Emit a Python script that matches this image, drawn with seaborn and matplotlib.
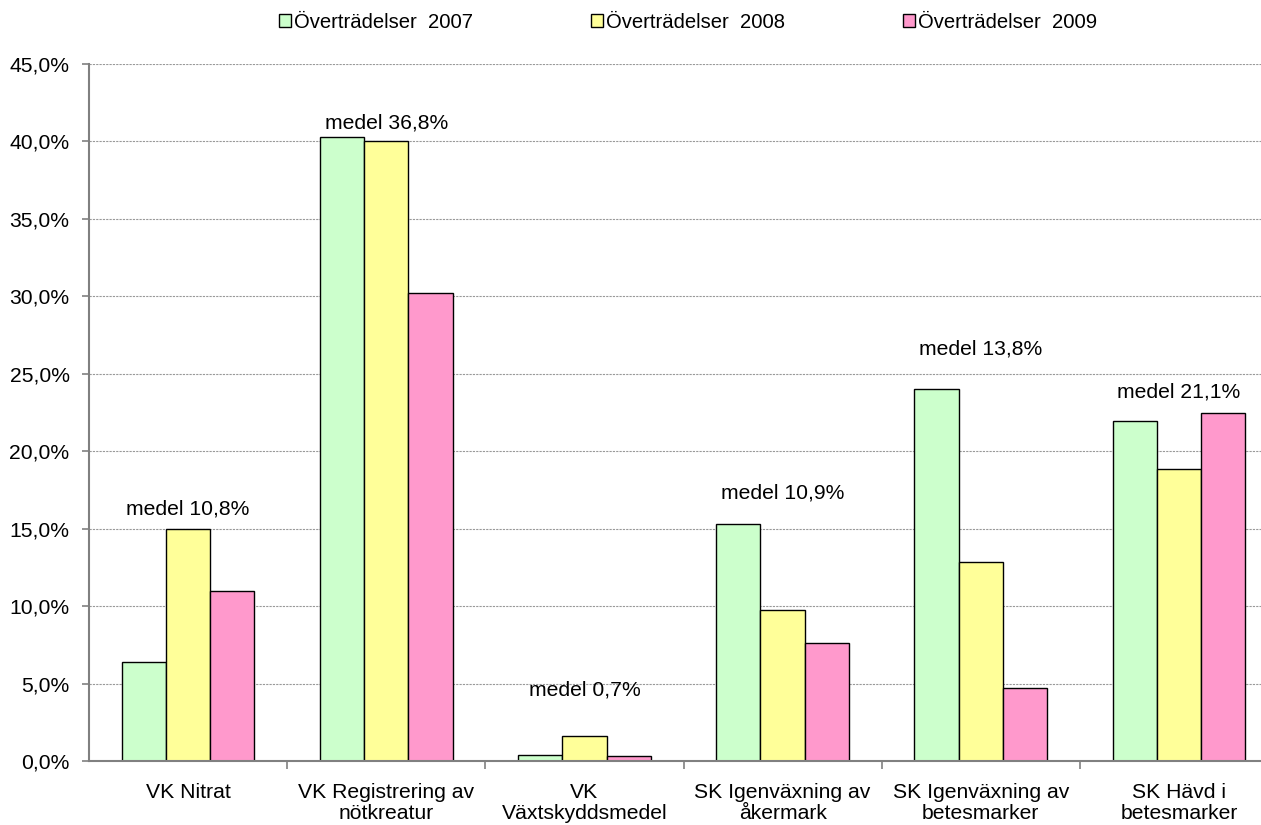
import pandas as pd
import seaborn as sns
import matplotlib.pyplot as plt
from matplotlib.ticker import FuncFormatter, FixedLocator

# data (percent)
categories = [
    "VK Nitrat",
    "VK Registrering av\nnötkreatur",
    "VK\nVäxtskyddsmedel",
    "SK Igenväxning av\nåkermark",
    "SK Igenväxning av\nbetesmarker",
    "SK Hävd i\nbetesmarker",
]
series = ["Överträdelser  2007", "Överträdelser  2008", "Överträdelser  2009"]
values_2007 = [6.4, 40.3, 0.4, 15.3, 24.0, 21.95]
values_2008 = [15.0, 40.0, 1.6, 9.75, 12.85, 18.85]
values_2009 = [11.0, 30.2, 0.3, 7.6, 4.7, 22.5]
mean_labels = ["medel 10,8%", "medel 36,8%", "medel 0,7%",
               "medel 10,9%", "medel 13,8%", "medel 21,1%"]

# where the hand placed "medel" boxes sit (data units)
label_y = [16.3, 41.2, 4.6, 17.3, 26.6, 23.8]
colors = ["#CCFFCC", "#FFFF99", "#FF99CC"]

df = pd.DataFrame({
    "kategori": categories * 3,
    "andel": values_2007 + values_2008 + values_2009,
    "serie": [s for s in series for _ in categories],
})

sns.set_style("white")
plt.rcParams["font.family"] = ["Liberation Sans", "DejaVu Sans"]
plt.rcParams["text.color"] = "black"
plt.rcParams["xtick.color"] = "black"
plt.rcParams["ytick.color"] = "black"

FS = 15.2

fig = plt.figure(figsize=(12.61, 8.25), dpi=100)
ax = fig.add_axes([89 / 1261, 64 / 825, (1278 - 89) / 1261, 697 / 825])

sns.barplot(data=df, x="kategori", y="andel", hue="serie", palette=colors,
            saturation=1, width=0.67, edgecolor="black", linewidth=1, ax=ax)

ax.set_xlim(-0.5, len(categories) - 0.5)
ax.set_ylim(0, 45)
ax.set_yticks(range(0, 46, 5))
ax.yaxis.set_major_formatter(FuncFormatter(lambda v, p: f"{v:.1f}%".replace(".", ",")))
ax.set_xlabel("")
ax.set_ylabel("")

ax.grid(axis="y", color="#999999", linewidth=0.8, linestyle=(0, (2, 1)))
ax.set_axisbelow(True)
for side in ["top", "right"]:
    ax.spines[side].set_visible(False)
for side in ["left", "bottom"]:
    ax.spines[side].set_color("#808080")
    ax.spines[side].set_linewidth(1.5)

ax.tick_params(axis="y", which="major", left=True, length=5, width=1.2,
               color="#808080", labelcolor="black", pad=9, labelsize=FS)
ax.tick_params(axis="x", which="major", length=0, pad=16, labelsize=FS,
               labelcolor="black")
ax.xaxis.set_minor_locator(FixedLocator([i + 0.5 for i in range(len(categories) - 1)]))
ax.tick_params(axis="x", which="minor", bottom=True, length=6, width=1.2, color="#808080")
for lbl in ax.get_xticklabels():
    lbl.set_verticalalignment("top")
    lbl.set_linespacing(1.12)

for i, txt in enumerate(mean_labels):
    ax.text(i, label_y[i], txt, ha="center", va="center", fontsize=FS)

handles, labels = ax.get_legend_handles_labels()
ax.legend(handles, labels, loc="center", bbox_to_anchor=(0.504, 1.06), ncol=3,
          frameon=False, fontsize=14.6, handlelength=0.6, handleheight=0.6,
          handletextpad=0.15, columnspacing=5.8)

fig.savefig("out.png", dpi=100)
